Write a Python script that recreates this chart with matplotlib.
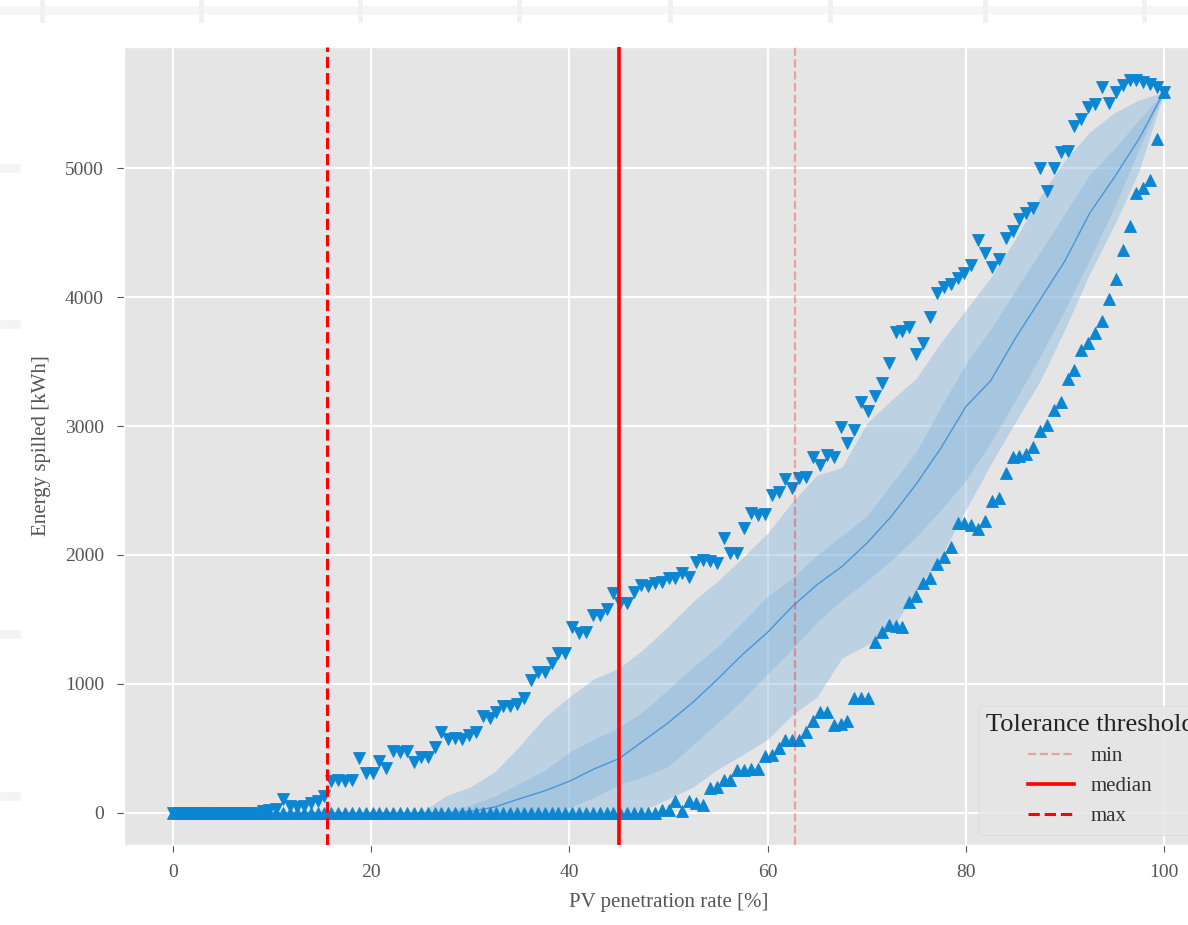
import numpy as np
import matplotlib
matplotlib.use('Agg')
import matplotlib.pyplot as plt
from matplotlib.patches import Rectangle

# x grid of the scenarios (0..100 % in 144 steps)
x_pts = np.arange(145) * 100 / 144

# max / min energy spilled per penetration rate [kWh]
spill_max = [0] * 13 + [
    15, 20, 30,
    106, 49, 45, 49, 75, 88, 132, 250, 256, 243,
    256, 424, 307, 307, 405, 346, 483, 470, 483, 390,
    436, 436, 514, 630, 571, 580, 571, 605, 630, 747,
    734, 785, 832, 832, 840, 889, 1031, 1095, 1095, 1165,
    1238, 1238, 1439, 1393, 1400, 1535, 1535, 1579, 1703, 1625,
    1630, 1716, 1767, 1760, 1780, 1793, 1819, 1819, 1863, 1832,
    1948, 1961, 1950, 1941, 2129, 2018, 2018, 2207, 2323, 2310,
    2320, 2465, 2491, 2587, 2517, 2594, 2607, 2762, 2698, 2775,
    2760, 2995, 2871, 2969, 3189, 3119, 3233, 3336, 3491, 3731,
    3740, 3770, 3558, 3646, 3843, 4033, 4080, 4101, 4150, 4184,
    4248, 4442, 4343, 4235, 4292, 4455, 4514, 4602, 4650, 4695,
    5005, 4824, 5005, 5126, 5134, 5326, 5385, 5471, 5500, 5630,
    5502, 5592, 5643, 5682, 5682, 5669, 5656, 5630, 5592]

spill_min = [0] * 71 + [
    23, 20, 88, 10, 88, 75, 62, 191, 199, 256,
    256, 328, 328, 339, 339, 442, 450, 500, 561, 561,
    566, 630, 708, 778, 778, 682, 690, 708, 889, 889,
    889, 1328, 1406, 1457, 1445, 1439, 1638, 1682, 1785, 1819,
    1930, 1982, 2060, 2246, 2250, 2230, 2199, 2266, 2421, 2440,
    2633, 2757, 2770, 2783, 2835, 2964, 3008, 3124, 3189, 3362,
    3434, 3589, 3646, 3720, 3816, 3982, 4137, 4364, 4550, 4804,
    4850, 4907, 5230, 5592]

# percentile bands, read every 2.5 %
x_band = np.arange(41) * 2.5
spill_med = [0] * 11 + [
    0, 10, 45, 110, 170, 245, 340, 420, 560, 700,
    860, 1040, 1230, 1400, 1600, 1770, 1910, 2090, 2300, 2550,
    2830, 3150, 3350, 3680, 3980, 4280, 4650, 4930, 5230, 5590]
spill_q75 = [0] * 11 + [
    10, 60, 130, 230, 330, 470, 570, 660, 790, 960,
    1130, 1290, 1480, 1680, 1820, 2000, 2150, 2300, 2550, 2800,
    3150, 3480, 3750, 4050, 4350, 4650, 4950, 5150, 5380, 5590]
spill_q25 = [0] * 16 + [
    40, 120, 220, 280, 360, 530, 700, 880, 1080, 1270,
    1480, 1650, 1800, 1960, 2140, 2350, 2580, 2870, 3200, 3540,
    3900, 4290, 4700, 5150, 5590]
spill_p95 = [0] * 11 + [
    130, 200, 320, 520, 740, 900, 1040, 1120, 1270, 1450,
    1640, 1800, 1980, 2170, 2410, 2620, 2680, 3020, 3200, 3370,
    3650, 3900, 4150, 4450, 4780, 5060, 5280, 5430, 5530, 5590]
spill_p5 = [0] * 19 + [
    20, 110, 200, 340, 450, 570, 760, 900, 1200, 1300,
    1420, 1720, 1990, 2350, 2700, 3030, 3350, 3750, 4180, 4560,
    4980, 5590]

# tolerance thresholds (PV penetration rate)
thr_names = ['min', 'median', 'max']
thr_values = [62.8, 45.0, 15.5]

plt.style.use('ggplot')
plt.rcParams['font.family'] = ['Liberation Serif', 'DejaVu Serif']

fig = plt.figure(figsize=(11.88, 9.25), dpi=100)

# faint bits of the page around the screenshot
fig.patches.append(Rectangle((0, 1 - 14 / 925), 1, 8 / 925, transform=fig.transFigure,
                             color='#f6f6f6', zorder=0))
for px in [42, 201, 360, 519, 670, 830, 985, 1144]:
    fig.patches.append(Rectangle((px / 1188 - 0.002, 1 - 22 / 925), 0.004, 22 / 925,
                                 transform=fig.transFigure, color='#f1f1f1', zorder=0))
for py in [164, 320, 630, 792]:
    fig.patches.append(Rectangle((0, 1 - (py + 8) / 925), 20 / 1188, 8 / 925,
                                 transform=fig.transFigure, color='#f4f4f4', zorder=0))

ax = fig.add_axes([123.5 / 1188, 80 / 925, 1090 / 1188, 798 / 925])
ax.set_facecolor('#e5e5e5')
ax.grid(True, color='white', linewidth=1.6)

band_col = '#8cb9de'
ax.fill_between(x_band, spill_p5, spill_p95, color=band_col, alpha=0.45, linewidth=0, zorder=2)
ax.fill_between(x_band, spill_q25, spill_q75, color=band_col, alpha=0.45, linewidth=0, zorder=2)
ax.plot(x_band, spill_med, color='#4a95d8', linewidth=1, zorder=3)

mk_col = '#0b86d3'
ax.plot(x_pts, spill_max, linestyle='none', marker='v', ms=8, color=mk_col,
        markeredgewidth=0.6, zorder=4)
ax.plot(x_pts, spill_min, linestyle='none', marker='^', ms=8, color=mk_col,
        markeredgewidth=0.6, zorder=4)

ax.axvline(thr_values[0], color='red', alpha=0.3, linestyle='--', linewidth=1.6,
           label=thr_names[0], zorder=5)
ax.axvline(thr_values[1], color='red', linestyle='-', linewidth=2.6,
           label=thr_names[1], zorder=5)
ax.axvline(thr_values[2], color='red', linestyle='--', linewidth=2.2,
           label=thr_names[2], zorder=5)

ax.set_xlim(-5, 105)
ax.set_ylim(-250, 5940)
ax.set_xticks([0, 20, 40, 60, 80, 100])
ax.set_yticks([0, 1000, 2000, 3000, 4000, 5000])
ax.tick_params(labelsize=14, colors='#555555', length=5, pad=9)
ax.set_xlabel('PV penetration rate [%]', fontsize=15, color='#555555', labelpad=8)
ax.set_ylabel('Energy spilled [kWh]', fontsize=15, color='#555555', labelpad=10)

leg = ax.legend(title='Tolerance threshold', loc='lower right', fontsize=15,
                title_fontsize=19, handlelength=2.2, facecolor='#e5e5e5',
                edgecolor='#d5d5d5', framealpha=0.8)
for t in leg.get_texts():
    t.set_color('#333333')
leg.get_title().set_color('#222222')

fig.savefig('out.png', dpi=100)
